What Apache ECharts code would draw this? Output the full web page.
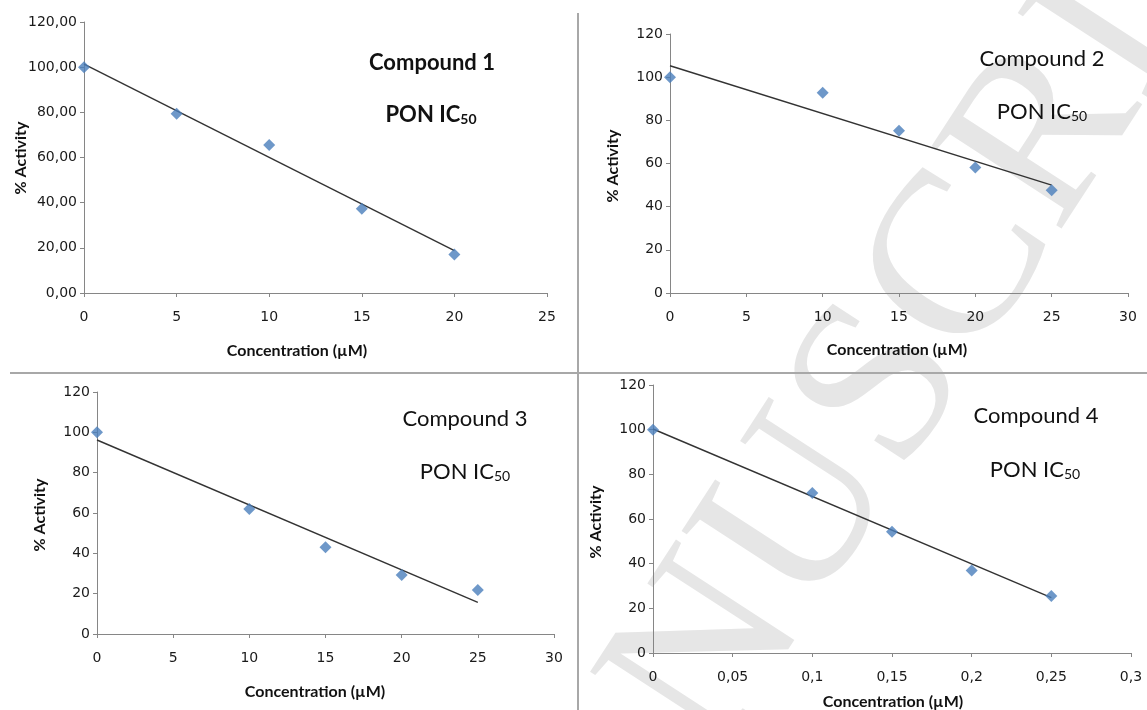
<!DOCTYPE html>
<html>
<head>
<meta charset="utf-8">
<script src="https://cdn.jsdelivr.net/npm/echarts@6/dist/echarts.min.js"></script>
<style>
html,body{margin:0;padding:0;background:#fff;}
#chart{width:1147px;height:710px;}
</style>
</head>
<body>
<div id="chart"></div>
<script>
// ---- Data ----
const titles = ['Compound 1', 'Compound 2', 'Compound 3', 'Compound 4'];
const subTitle = 'PON IC';
const subIndex = '50';
const yAxisTitle = '% Activity';
const xAxisTitle = 'Concentration (\u00b5M)';

const conc1 = [0, 5, 10, 15, 20];
const act1 = [100, 79.4, 65.5, 37.3, 17.1];
const trendX1 = [0, 20];
const trendY1 = [101.3, 18.8];

const conc2 = [0, 10, 15, 20, 25];
const act2 = [100, 92.8, 75.2, 58.2, 47.6];
const trendX2 = [0, 25];
const trendY2 = [105.3, 50.0];

const conc3 = [0, 10, 15, 20, 25];
const act3 = [100, 62, 43, 29.3, 21.8];
const trendX3 = [0, 25];
const trendY3 = [96.2, 15.7];

const conc4 = [0, 0.1, 0.15, 0.2, 0.25];
const act4 = [100, 71.6, 54.3, 36.9, 25.5];
const trendX4 = [0, 0.25];
const trendY4 = [100.3, 24.8];

const xMax = [25, 30, 30, 0.3];
const xStep = [5, 5, 5, 0.05];
const yMax = [120, 120, 120, 120];
const yStep = [20, 20, 20, 20];

const concs = [conc1, conc2, conc3, conc4];
const acts = [act1, act2, act3, act4];
const trendXs = [trendX1, trendX2, trendX3, trendX4];
const trendYs = [trendY1, trendY2, trendY3, trendY4];

// ---- Layout ----
const grids = [
  {left: 84, top: 22, width: 463, height: 271},
  {left: 670, top: 34, width: 458, height: 259},
  {left: 97, top: 392, width: 457, height: 242},
  {left: 653, top: 385, width: 478, height: 268}
];
const titlePos = [[432, 63], [1042, 59], [465, 419], [1036, 416]];
const subPos = [[431, 113], [1042, 110], [465, 470], [1035, 468]];
const yTitlePos = [[21, 158], [613, 166], [40, 515], [596, 522]];
const xTitlePos = [[297, 351], [897, 350], [315, 692], [893, 702]];
const titleBold = [true, false, false, false];

const axisColor = '#868686';
const labelColor = '#1a1a1a';
const tickFont = 'DejaVu Sans';
const titleFont = 'Lato';

function fmtY(panel) {
  return function (v) {
    if (panel === 0) return v.toFixed(2).replace('.', ',');
    return String(Math.round(v));
  };
}
function fmtX(v) {
  return String(+v.toFixed(2)).replace('.', ',');
}

const option = {
  backgroundColor: '#ffffff',
  animation: false,
  grid: grids.map(g => Object.assign({containLabel: false, outerBoundsMode: 'none'}, g)),
  xAxis: grids.map((g, i) => ({
    type: 'value', gridIndex: i, min: 0, max: xMax[i], interval: xStep[i],
    axisLine: {show: true, onZero: false, lineStyle: {color: axisColor, width: 1}},
    axisTick: {show: true, inside: false, length: 4, lineStyle: {color: axisColor}},
    splitLine: {show: false},
    axisLabel: {color: labelColor, fontFamily: tickFont, fontSize: 14, margin: 17, formatter: fmtX}
  })),
  yAxis: grids.map((g, i) => ({
    type: 'value', gridIndex: i, min: 0, max: yMax[i], interval: yStep[i],
    axisLine: {show: true, onZero: false, lineStyle: {color: axisColor, width: 1}},
    axisTick: {show: true, inside: false, length: 4, lineStyle: {color: axisColor}},
    splitLine: {show: false},
    axisLabel: {color: labelColor, fontFamily: tickFont, fontSize: 14, margin: 7, formatter: fmtY(i)}
  })),
  series: [].concat(
    concs.map((c, i) => ({
      type: 'line', xAxisIndex: i, yAxisIndex: i, z: 3,
      data: trendXs[i].map((x, k) => [x, trendYs[i][k]]),
      symbol: 'none', lineStyle: {color: '#333333', width: 1.4}, silent: true
    })),
    concs.map((c, i) => ({
      type: 'scatter', xAxisIndex: i, yAxisIndex: i, z: 4,
      data: c.map((x, k) => [x, acts[i][k]]),
      symbol: 'diamond', symbolSize: 12,
      itemStyle: {color: '#4a7ebb'}
    }))
  ),
  graphic: [].concat(
    [{
      type: 'text', x: 870, y: 410, rotation: 57 * Math.PI / 180, z: -10, silent: true,
      style: {text: 'MANUSCRIPT', font: '235px "Liberation Serif"', fill: '#e6e6e6',
        textAlign: 'center', textVerticalAlign: 'middle'}
    },
    {type: 'line', shape: {x1: 578, y1: 13, x2: 578, y2: 710}, style: {stroke: '#a8a8a8', lineWidth: 2}, z: 1},
    {type: 'line', shape: {x1: 10, y1: 373, x2: 1147, y2: 373}, style: {stroke: '#a8a8a8', lineWidth: 2}, z: 1}],
    titles.map((t, i) => ({
      type: 'text', x: titlePos[i][0], y: titlePos[i][1], z: 5,
      style: {text: t, font: (titleBold[i] ? 'bold ' : '') + '22px ' + titleFont, fill: '#111',
        textAlign: 'center', textVerticalAlign: 'middle'}
    })),
    titles.map((t, i) => ({
      type: 'text', x: subPos[i][0], y: subPos[i][1], z: 5,
      style: {
        text: '{a|' + subTitle + '}{b|' + subIndex + '}',
        textAlign: 'center', textVerticalAlign: 'middle',
        rich: {
          a: {fontFamily: titleFont, fontWeight: titleBold[i] ? 'bold' : 'normal', fontSize: 22, fill: '#111', color: '#111', lineHeight: 26, verticalAlign: 'bottom'},
          b: {fontFamily: titleFont, fontWeight: titleBold[i] ? 'bold' : 'normal', fontSize: 14, fill: '#111', color: '#111', lineHeight: 20, verticalAlign: 'bottom'}
        }
      }
    })),
    yTitlePos.map((p, i) => ({
      type: 'text', x: p[0], y: p[1], rotation: Math.PI / 2, z: 5,
      style: {text: yAxisTitle, font: 'bold 16px ' + titleFont, fill: '#111',
        textAlign: 'center', textVerticalAlign: 'middle'}
    })),
    xTitlePos.map((p, i) => ({
      type: 'text', x: p[0], y: p[1], z: 5,
      style: {text: xAxisTitle, font: 'bold 16px ' + titleFont, fill: '#111',
        textAlign: 'center', textVerticalAlign: 'middle'}
    }))
  )
};

const chart = echarts.init(document.getElementById('chart'), null, {renderer: 'canvas'});
chart.setOption(option);
</script>
</body>
</html>
